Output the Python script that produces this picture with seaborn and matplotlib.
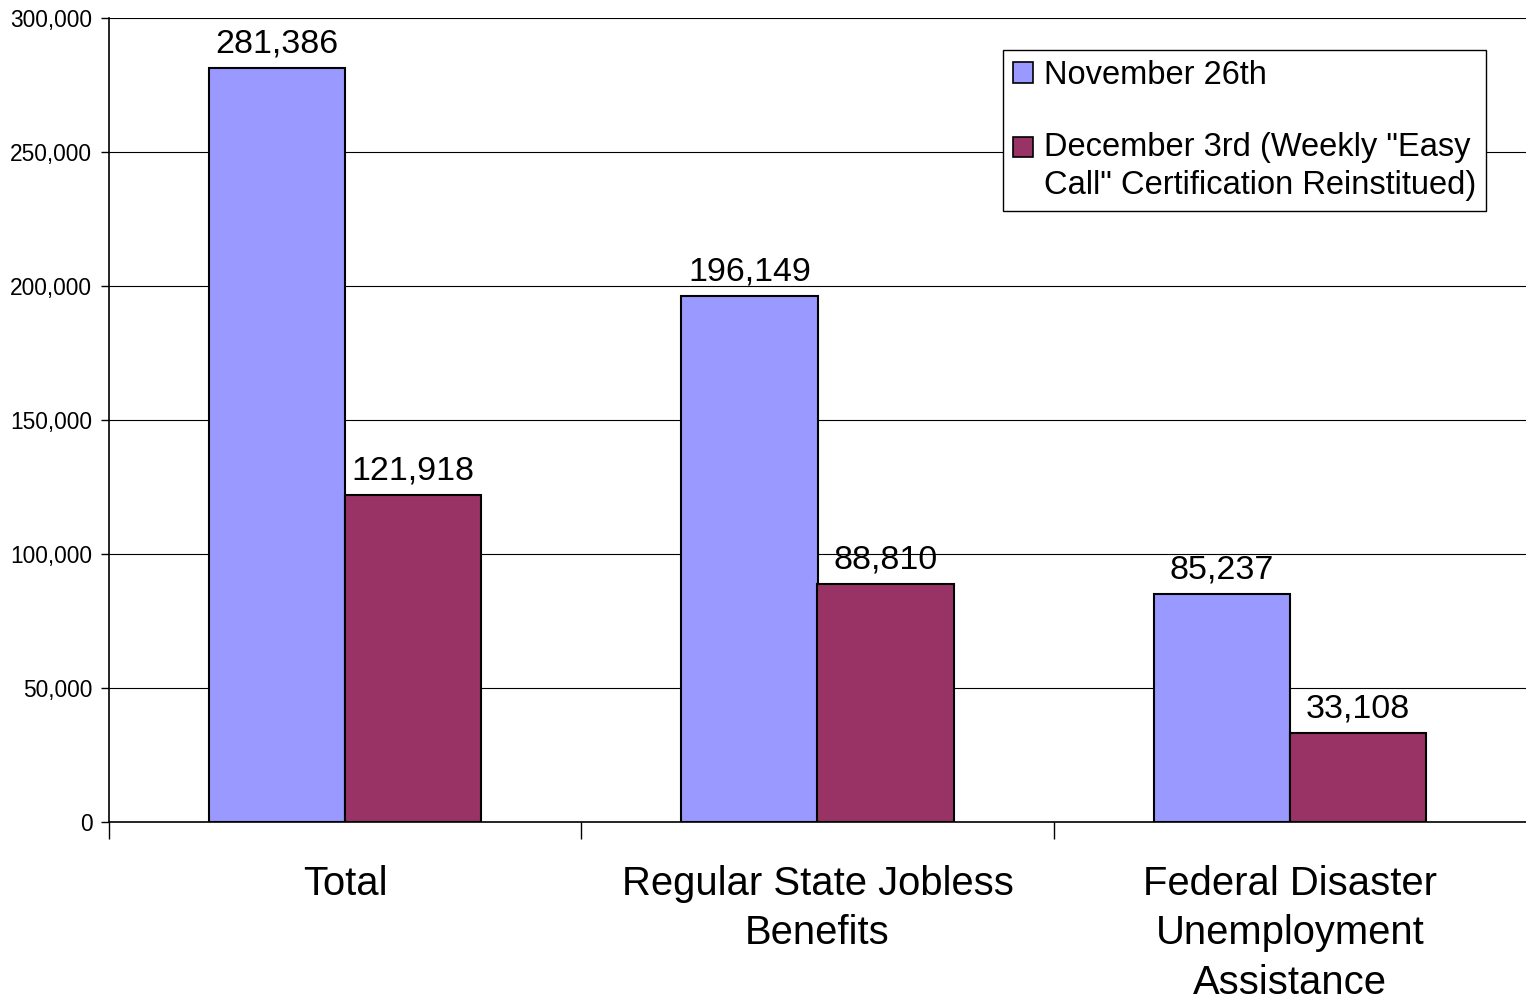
import pandas as pd
import matplotlib
matplotlib.use("Agg")
import matplotlib.pyplot as plt
import matplotlib.patches as mpatches
from matplotlib.legend_handler import HandlerPatch
from matplotlib.ticker import FuncFormatter, FixedLocator
import seaborn as sns

# donnees
categories = ["Total", "Regular State Jobless\nBenefits",
              "Federal Disaster\nUnemployment\nAssistance"]
series_names = ["November 26th",
                "December 3rd (Weekly \"Easy\nCall\" Certification Reinstitued)"]
nov_values = [281386, 196149, 85237]
dec_values = [121918, 88810, 33108]
couleurs = ["#9999FF", "#993366"]
y_ticks = [0, 50000, 100000, 150000, 200000, 250000, 300000]

df = pd.DataFrame({
    "categorie": categories * 2,
    "serie": [series_names[0]] * 3 + [series_names[1]] * 3,
    "valeur": nov_values + dec_values,
})

sns.set_theme(style="white")
plt.rcParams["font.family"] = ["Liberation Sans", "DejaVu Sans"]
plt.rcParams["text.color"] = "black"
plt.rcParams["xtick.color"] = "black"
plt.rcParams["ytick.color"] = "black"

fig = plt.figure(figsize=(15.26, 10), dpi=100)
ax = fig.add_axes([109 / 1526, 0.178, 1417 / 1526, 0.804])

palette = dict(zip(series_names, couleurs))
sns.barplot(data=df, x="categorie", y="valeur", hue="serie", palette=palette,
            width=0.576, edgecolor="black", linewidth=1.5, saturation=1,
            legend=False, ax=ax)

# valeurs au dessus des barres
for cont in ax.containers:
    ax.bar_label(cont, labels=[f"{b.get_height():,.0f}" for b in cont],
                 padding=6, fontsize=24.5, color="black")

ax.set_ylim(0, 300000)
ax.set_xlim(-0.5, 2.5)
ax.set_yticks(y_ticks)
ax.yaxis.set_major_formatter(FuncFormatter(lambda v, p: f"{v:,.0f}"))
ax.tick_params(axis="y", labelsize=16.4, length=6, width=1, color="black",
               labelcolor="black", pad=6, left=True)
ax.grid(axis="y", color="black", linewidth=0.8)
ax.set_axisbelow(True)

# ticks x : separateurs entre groupes + etiquettes centrees
ax.xaxis.set_major_locator(FixedLocator([-0.5, 0.5, 1.5]))
ax.xaxis.set_minor_locator(FixedLocator([0, 1, 2]))
ax.set_xticklabels(["", "", ""])
ax.set_xticklabels(categories, minor=True)
ax.tick_params(axis="x", which="major", length=12, width=1, color="black",
               bottom=True, direction="out")
ax.tick_params(axis="x", which="minor", length=0, labelsize=28.8, pad=31,
               labelcolor="black")
for lab in ax.get_xticklabels(minor=True):
    lab.set_linespacing(1.38)

ax.set_xlabel("")
ax.set_ylabel("")
for s in ["top", "right"]:
    ax.spines[s].set_visible(False)
for s in ["left", "bottom"]:
    ax.spines[s].set_color("black")
    ax.spines[s].set_linewidth(1.2)


def carre_haut(legend, orig_handle, xdescent, ydescent, width, height, fontsize):
    # carre aligne sur la premiere ligne du libelle
    return mpatches.Rectangle((-xdescent, -ydescent + 14.5), width, height)


handles = [mpatches.Patch(facecolor=c, edgecolor="black", linewidth=1.2)
           for c in couleurs]
leg = ax.legend(handles, series_names, loc="upper right",
                bbox_to_anchor=(0.972, 0.960), borderaxespad=0,
                fontsize=23.5, frameon=True, fancybox=False, framealpha=1,
                edgecolor="black", handlelength=0.6, handleheight=0.6,
                handletextpad=0.35, labelspacing=1.25, borderpad=0.3,
                handler_map={handles[1]: HandlerPatch(patch_func=carre_haut)})
leg.get_frame().set_linewidth(1)
for t in leg.get_texts():
    t.set_linespacing(1.32)
    t.set_color("black")

fig.savefig("out.png", dpi=100)
